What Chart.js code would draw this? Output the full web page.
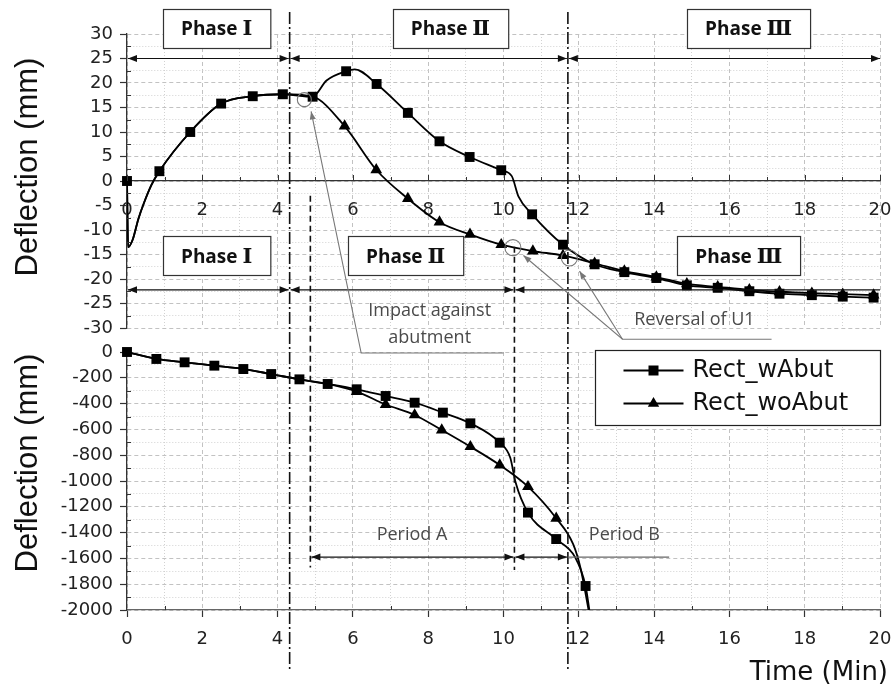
<!DOCTYPE html>
<html>
<head>
<meta charset="utf-8">
<script src="https://cdn.jsdelivr.net/npm/chart.js@4/dist/chart.umd.min.js"></script>
<style>
  html, body { margin: 0; padding: 0; background: #fff; }
  #wrap { position: relative; width: 894px; height: 693px; }
  #wrap canvas { position: absolute; left: 0; top: 0; }
</style>
</head>
<body>
<div id="wrap">
  <canvas id="upper" width="894" height="693"></canvas>
  <canvas id="lower" width="894" height="693"></canvas>
</div>
<script>
// ---------------------------------------------------------------
// Series
// ---------------------------------------------------------------
const SERIES = ['Rect_wAbut', 'Rect_woAbut'];

// Upper panel: deflection (mm) vs time (min)
// Phase I response is common to both models up to the impact point
const upCommonT = [0, 0.86, 1.68, 2.5, 3.34, 4.14, 4.93];
const upCommonV = [0, 2.0, 10.0, 15.8, 17.3, 17.7, 17.2];
// knots of the initial dip (curve only, no markers)
const upCommonBendT = [0.03, 0.15, 0.3, 0.45, 0.65];
const upCommonBendV = [-13.5, -12.0, -7.8, -4.5, -0.8];

const upWAbutT = [5.82, 6.63, 7.46, 8.3, 9.1, 9.94, 10.76, 11.58, 12.42, 13.21, 14.06, 14.87, 15.69, 16.53, 17.33, 18.19, 19.01, 19.83];
const upWAbutV = [22.4, 19.8, 13.9, 8.1, 4.9, 2.2, -6.8, -13.0, -17.0, -18.6, -19.8, -21.3, -21.8, -22.5, -23.0, -23.3, -23.6, -23.8];
const upWAbutBendT = [5.3, 6.05, 10.22, 10.4];
const upWAbutBendV = [20.5, 22.8, 1.0, -3.2];

const upWoAbutT = [5.78, 6.62, 7.46, 8.3, 9.11, 9.94, 10.78, 11.58, 12.42, 13.21, 14.06, 14.87, 15.69, 16.53, 17.33, 18.19, 19.01, 19.83];
const upWoAbutV = [11.2, 2.3, -3.6, -8.4, -10.9, -13.0, -14.3, -15.2, -16.8, -18.4, -19.6, -21.0, -21.6, -22.2, -22.6, -22.9, -23.1, -23.3];

// Lower panel: deflection (mm) vs time (min)
const loCommonT = [0, 0.78, 1.53, 2.32, 3.09, 3.83, 4.58, 5.33];
const loCommonV = [0, -54, -80, -106, -132, -171, -212, -248];

const loWAbutT = [6.1, 6.87, 7.64, 8.39, 9.12, 9.9, 10.65, 11.4, 12.18];
const loWAbutV = [-289, -341, -393, -470, -553, -703, -1245, -1450, -1814];
const loWAbutBendT = [10.18, 10.32, 11.9, 12.28];
const loWAbutBendV = [-820, -1010, -1590, -2000];

const loWoAbutT = [6.1, 6.87, 7.64, 8.36, 9.12, 9.9, 10.65, 11.4];
const loWoAbutV = [-307, -407, -488, -605, -734, -876, -1044, -1289];
const loWoAbutBendT = [11.85, 12.05, 12.26];
const loWoAbutBendV = [-1490, -1680, -2000];

// Phase / period boundaries (min)
const phaseBounds = [4.32, 11.71];
const periodBounds = [4.87, 10.29];
const phaseNames = ['Phase Ⅰ', 'Phase Ⅱ', 'Phase Ⅲ'];

// ---------------------------------------------------------------
// helpers
// ---------------------------------------------------------------
const pts = (t, v) => t.map((x, i) => ({ x, y: v[i] }));
const merge = (...lists) => lists.flat().sort((a, b) => a.x - b.x);
const near = (v, step) => Math.abs(v / step - Math.round(v / step)) < 1e-6;

const TICK_FONT = { family: 'DejaVu Sans', size: 18 };

function lineSet(data) {
  return { data, borderColor: '#000', borderWidth: 1.8, pointRadius: 0,
           cubicInterpolationMode: 'monotone', fill: false };
}
function markerSet(data, style) {
  return { data, showLine: false, pointStyle: style,
           pointRadius: style === 'rect' ? 7 : 6.8,
           backgroundColor: '#000', borderColor: '#000', borderWidth: 0, clip: false };
}

// fixed axis box sizes, no extra edge padding from tick labels
function fixSize(w, h) {
  return sc => {
    if (w != null) sc.width = w;
    if (h != null) sc.height = h;
    sc.paddingLeft = 0; sc.paddingRight = 0; sc.paddingTop = 0; sc.paddingBottom = 0;
  };
}

function axis(min, max, step, major, extra) {
  return Object.assign({
    type: 'linear', min, max,
    ticks: {
      stepSize: step, autoSkip: false, maxRotation: 0, font: TICK_FONT, color: '#222',
      callback: v => near(v, major) ? String(Math.round(v)) : ''
    },
    grid: {
      color: c => c.tick && near(c.tick.value, major) ? '#c2c2c2' : '#d2d2d2',
      lineWidth: 1,
      drawTicks: true, tickLength: 7, tickWidth: 1.2,
      tickColor: c => c.tick && near(c.tick.value, major) ? '#333' : 'rgba(0,0,0,0)'
    },
    border: {
      color: '#333', width: 1.3,
      dash: c => c.tick ? (near(c.tick.value, major) ? [4, 3] : [1, 2]) : []
    }
  }, extra || {});
}

// short inward tick marks at the unlabelled (minor) positions
const minorTicks = {
  id: 'minorTicks',
  afterDraw(chart, args, opts) {
    const { ctx, chartArea: a, scales: { x, y } } = chart;
    ctx.save();
    ctx.strokeStyle = '#333';
    ctx.lineWidth = 1;
    ctx.beginPath();
    y.ticks.forEach(t => {
      if (near(t.value, opts.yMajor)) return;
      const py = Math.round(y.getPixelForValue(t.value)) + 0.5;
      ctx.moveTo(a.left, py); ctx.lineTo(a.left + 4, py);
    });
    const base = opts.xAtZero ? y.getPixelForValue(0) : a.bottom;
    x.ticks.forEach(t => {
      const major = near(t.value, 2);
      if (major && !opts.xAtZero) return;
      const px = Math.round(x.getPixelForValue(t.value)) + 0.5;
      const len = major ? 6 : 4;
      ctx.moveTo(px, base); ctx.lineTo(px, base - len);
    });
    ctx.stroke();
    ctx.restore();
  }
};

// ---------------------------------------------------------------
// upper chart
// ---------------------------------------------------------------
const upperChart = new Chart(document.getElementById('upper'), {
  type: 'line',
  data: {
    datasets: [
      Object.assign(markerSet(merge(pts(upCommonT, upCommonV), pts(upWAbutT, upWAbutV)), 'rect'), { label: SERIES[0] }),
      Object.assign(markerSet(pts(upWoAbutT, upWoAbutV), 'triangle'), { label: SERIES[1] }),
      lineSet(merge(pts(upCommonT, upCommonV), pts(upCommonBendT, upCommonBendV),
                    pts(upWAbutT, upWAbutV), pts(upWAbutBendT, upWAbutBendV))),
      lineSet(merge(pts(upCommonT, upCommonV), pts(upCommonBendT, upCommonBendV),
                    pts(upWoAbutT, upWoAbutV)))
    ]
  },
  options: {
    responsive: false, animation: false, events: [],
    layout: { padding: { left: 0, right: 14, top: 34, bottom: 365 } },
    plugins: { legend: { display: false }, tooltip: { enabled: false },
               minorTicks: { yMajor: 5, xAtZero: true } },
    scales: {
      x: (() => {
        const s = axis(0, 20, 1, 2, { position: { y: 0 }, afterFit: fixSize(null, null) });
        s.grid.drawTicks = false;
        s.ticks.padding = 19;
        return s;
      })(),
      y: (() => {
        const s = axis(-30, 30, 2.5, 5, { afterFit: fixSize(127, null) });
        s.ticks.padding = 7;
        return s;
      })()
    }
  },
  plugins: [minorTicks]
});

// ---------------------------------------------------------------
// overlay: phase lines, arrows, labels, callouts, legend, titles
// ---------------------------------------------------------------
function head(ctx, x, y, ang, len, half) {
  ctx.beginPath();
  ctx.moveTo(x, y);
  ctx.lineTo(x - len * Math.cos(ang) + half * Math.sin(ang), y - len * Math.sin(ang) - half * Math.cos(ang));
  ctx.lineTo(x - len * Math.cos(ang) - half * Math.sin(ang), y - len * Math.sin(ang) + half * Math.cos(ang));
  ctx.closePath();
  ctx.fill();
}
function hArrow(ctx, x1, x2, y, hl, hr) {
  ctx.beginPath(); ctx.moveTo(x1, y); ctx.lineTo(x2, y); ctx.stroke();
  if (hl) head(ctx, x1, y, Math.PI, 9, 3.5);
  if (hr) head(ctx, x2, y, 0, 9, 3.5);
}
const NUM_FONT = 'bold 21px "DejaVu Serif", "Liberation Serif", serif';
function phaseBox(ctx, cx, cy, name) {
  const [word, num] = name.split(' ');
  ctx.font = 'bold 19px "Open Sans"';
  const w1 = ctx.measureText(word + ' ').width;
  ctx.font = NUM_FONT;
  const w2 = ctx.measureText(num).width;
  const tw = w1 + w2, bw = tw + 36, bh = 39;
  const bx = Math.round(cx - bw / 2) + 0.5, by = Math.round(cy - bh / 2) + 0.5;
  ctx.fillStyle = '#fff';
  ctx.fillRect(bx, by, bw, bh);
  ctx.strokeStyle = '#333'; ctx.lineWidth = 1.2;
  ctx.strokeRect(bx, by, bw, bh);
  ctx.fillStyle = '#111';
  ctx.textAlign = 'left'; ctx.textBaseline = 'alphabetic';
  ctx.font = 'bold 19px "Open Sans"';
  ctx.fillText(word + ' ', cx - tw / 2, cy + 7);
  ctx.font = NUM_FONT;
  ctx.fillText(num, cx - tw / 2 + w1, cy + 7);
}

const overlay = {
  id: 'overlay',
  afterDraw(chart) {
    const ctx = chart.ctx;
    const xs = chart.scales.x;
    const X = v => xs.getPixelForValue(v);
    const YU = v => upperChart.scales.y.getPixelForValue(v);
    const YL = v => chart.scales.y.getPixelForValue(v);
    const aU = upperChart.chartArea, aL = chart.chartArea;
    ctx.save();

    // phase boundaries (dash-dot)
    ctx.strokeStyle = '#111'; ctx.lineWidth = 1.6;
    ctx.setLineDash([12, 3, 2, 3]);
    phaseBounds.forEach(t => {
      ctx.beginPath(); ctx.moveTo(X(t), aU.top - 22); ctx.lineTo(X(t), aL.bottom + 60); ctx.stroke();
    });
    // period boundaries (dashed)
    ctx.setLineDash([6, 4]);
    ctx.beginPath(); ctx.moveTo(X(periodBounds[0]), YU(-3)); ctx.lineTo(X(periodBounds[0]), YL(-1670)); ctx.stroke();
    ctx.beginPath(); ctx.moveTo(X(periodBounds[1]), YU(-13.4)); ctx.lineTo(X(periodBounds[1]), YL(-1690)); ctx.stroke();
    ctx.setLineDash([]);

    // phase arrows
    ctx.strokeStyle = '#111'; ctx.fillStyle = '#111'; ctx.lineWidth = 1.2;
    const yA = YU(25), yB = YU(-22.2), yP = YL(-1590);
    hArrow(ctx, X(0) + 1, X(phaseBounds[0]) - 1, yA, true, true);
    hArrow(ctx, X(phaseBounds[0]) + 1, X(phaseBounds[1]) - 1, yA, true, true);
    hArrow(ctx, X(phaseBounds[1]) + 1, X(20), yA, true, true);
    hArrow(ctx, X(0) + 1, X(phaseBounds[0]) - 1, yB, true, true);
    hArrow(ctx, X(phaseBounds[0]) + 1, X(periodBounds[1]) - 1, yB, true, true);
    hArrow(ctx, X(periodBounds[1]) + 1, X(20), yB, true, false);
    // periods
    hArrow(ctx, X(periodBounds[0]) + 1, X(periodBounds[1]) - 1, yP, true, true);
    hArrow(ctx, X(periodBounds[1]) + 1, X(phaseBounds[1]) - 1, yP, true, true);
    ctx.strokeStyle = '#666';
    ctx.beginPath(); ctx.moveTo(X(phaseBounds[1]), yP); ctx.lineTo(X(14.4), yP); ctx.stroke();

    // phase labels
    phaseBox(ctx, X(2.38), YU(31.2), phaseNames[0]);
    phaseBox(ctx, X(8.59), YU(31.2), phaseNames[1]);
    phaseBox(ctx, X(16.51), YU(31.2), phaseNames[2]);
    phaseBox(ctx, X(2.38), YU(-15.3), phaseNames[0]);
    phaseBox(ctx, X(7.4), YU(-15.3), phaseNames[1]);
    phaseBox(ctx, X(16.25), YU(-15.3), phaseNames[2]);

    // callouts
    ctx.strokeStyle = '#777'; ctx.fillStyle = '#777'; ctx.lineWidth = 1.1;
    const circ = (t, v, r) => { ctx.beginPath(); ctx.arc(X(t), YU(v), r, 0, 2 * Math.PI); ctx.stroke(); };
    const path = (p) => {
      ctx.beginPath(); ctx.moveTo(X(p[0][0]), YU(p[0][1]));
      p.slice(1).forEach(q => ctx.lineTo(X(q[0]), YU(q[1])));
      ctx.stroke();
      const ang = Math.atan2(YU(p[0][1]) - YU(p[1][1]), X(p[0][0]) - X(p[1][0]));
      head(ctx, X(p[0][0]), YU(p[0][1]), ang, 8, 3);
    };
    circ(4.71, 16.6, 7);
    path([[4.89, 14.2], [6.22, -35.1], [10.0, -35.1]]);
    circ(10.25, -13.6, 8);
    circ(11.75, -15.7, 8);
    path([[10.53, -15.2], [13.16, -32.3], [17.12, -32.3]]);
    path([[12.02, -18.4], [13.16, -32.3]]);

    ctx.fillStyle = '#4a4a4a';
    ctx.font = '18px "Open Sans"';
    ctx.textAlign = 'center'; ctx.textBaseline = 'middle';
    ctx.fillText('Impact against', X(8.04), YU(-26.6));
    ctx.fillText('abutment', X(8.04), YU(-32.0));
    ctx.fillText('Reversal of U1', X(15.07), YU(-28.4));
    ctx.fillText('Period A', X(7.57), YL(-1419));
    ctx.fillText('Period B', X(13.21), YL(-1419));

    // legend
    const lw = 285, lh = 75;
    const lx = Math.round(aL.right - lw) + 0.5, ly = Math.round(aL.top - 2) + 0.5;
    ctx.fillStyle = '#fff'; ctx.fillRect(lx, ly, lw, lh);
    ctx.strokeStyle = '#222'; ctx.lineWidth = 1.2; ctx.strokeRect(lx, ly, lw, lh);
    SERIES.forEach((name, i) => {
      const ry = ly + 20 + i * 33;
      ctx.strokeStyle = '#000'; ctx.lineWidth = 1.8;
      ctx.beginPath(); ctx.moveTo(lx + 28, ry); ctx.lineTo(lx + 88, ry); ctx.stroke();
      ctx.fillStyle = '#000';
      if (i === 0) ctx.fillRect(lx + 53, ry - 5, 10, 10);
      else { ctx.beginPath(); ctx.moveTo(lx + 58, ry - 6.5); ctx.lineTo(lx + 63.7, ry + 3.3); ctx.lineTo(lx + 52.3, ry + 3.3); ctx.closePath(); ctx.fill(); }
      ctx.fillStyle = '#111';
      ctx.font = '24px "DejaVu Sans"';
      ctx.textAlign = 'left'; ctx.textBaseline = 'middle';
      ctx.fillText(name, lx + 97, ry);
    });

    // axis titles
    ctx.fillStyle = '#111';
    ctx.font = '31px "Liberation Sans"';
    ctx.textAlign = 'center'; ctx.textBaseline = 'middle';
    [[aU, 14], [aL, 18]].forEach(([a, up]) => {
      ctx.save();
      ctx.translate(28, (a.top + a.bottom) / 2 - up);
      ctx.rotate(-Math.PI / 2);
      ctx.fillText('Deflection (mm)', 0, 0);
      ctx.restore();
    });
    ctx.font = '26px "DejaVu Sans"';
    ctx.textAlign = 'right'; ctx.textBaseline = 'alphabetic';
    ctx.fillText('Time (Min)', aL.right + 8, aL.bottom + 70);

    ctx.restore();
  }
};

// ---------------------------------------------------------------
// lower chart
// ---------------------------------------------------------------
new Chart(document.getElementById('lower'), {
  type: 'line',
  data: {
    datasets: [
      Object.assign(markerSet(merge(pts(loCommonT, loCommonV), pts(loWAbutT, loWAbutV)), 'rect'), { label: SERIES[0] }),
      Object.assign(markerSet(pts(loWoAbutT, loWoAbutV), 'triangle'), { label: SERIES[1] }),
      lineSet(merge(pts(loCommonT, loCommonV), pts(loWAbutT, loWAbutV), pts(loWAbutBendT, loWAbutBendV))),
      lineSet(merge(pts(loCommonT, loCommonV), pts(loWoAbutT, loWoAbutV), pts(loWoAbutBendT, loWoAbutBendV)))
    ]
  },
  options: {
    responsive: false, animation: false, events: [],
    layout: { padding: { left: 0, right: 14, top: 352, bottom: 43 } },
    plugins: { legend: { display: false }, tooltip: { enabled: false },
               minorTicks: { yMajor: 200, xAtZero: false } },
    scales: {
      x: (() => {
        const s = axis(0, 20, 1, 2, { position: 'bottom', afterFit: fixSize(null, 40) });
        s.ticks.padding = 12;
        s.border.color = '#666';
        return s;
      })(),
      y: (() => {
        const s = axis(-2000, 0, 100, 200, { afterFit: fixSize(127, null) });
        s.ticks.padding = 7;
        return s;
      })()
    }
  },
  plugins: [minorTicks, overlay]
});
</script>
</body>
</html>
